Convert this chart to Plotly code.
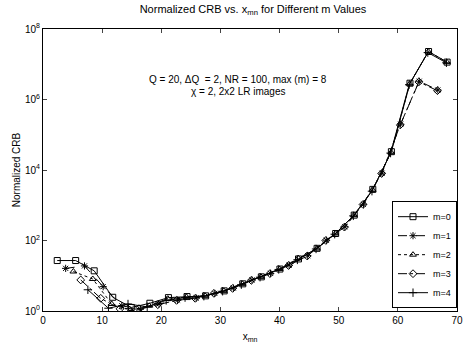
import plotly.graph_objects as go

# x_mn values (zeros of Bessel J_m) and normalized CRB per m
x_m0 = [2.4048, 5.5201, 8.6537, 11.7915, 14.9309, 18.0711, 21.2116, 24.3525, 27.4935, 30.6346, 33.7758,
        36.9171, 40.0584, 43.1998, 46.3412, 49.4826, 52.6241, 55.7655, 58.9070, 62.0485, 65.1900, 68.3315]
y_m0 = [27, 27, 13.8, 2.45, 1.26, 1.66, 2.4, 2.57, 2.69, 3.72, 5.9, 9.3, 15.5, 30, 60, 158, 525, 2820,
        33100, 2.9e6, 2.3e7, 1.15e7]

x_m1 = [3.8317, 7.0156, 10.1735, 13.3237, 16.4706, 19.6159, 22.7601, 25.9037, 29.0468, 32.1897, 35.3323,
        38.4748, 41.6171, 44.7593, 47.9015, 51.0435, 54.1856, 57.3275, 60.4695, 63.6114, 66.7532]
y_m1 = [16.2, 19, 4.9, 1.41, 1.12, 1.58, 2.04, 2.34, 3.16, 4.47, 7.6, 11.7, 20, 37, 102, 245, 1070, 8130,
        2.0e5, 3.3e6, 1.86e6]

x_m2 = [5.1356, 8.4172, 11.6198, 14.7960, 17.9598, 21.1170, 24.2701, 27.4205, 30.5692, 33.7165, 36.8633,
        40.0084, 43.1525, 46.2960, 49.4390, 52.5816, 55.7236, 58.8654, 62.0067, 65.1479, 68.2888]
y_m2 = [13.2, 8.1, 1.58, 1.07, 1.41, 2.24, 2.51, 2.69, 3.72, 5.9, 9.3, 15.5, 31.6, 58.9, 158, 525, 2750,
        31600, 2.8e6, 2.3e7, 1.15e7]

x_m3 = [6.3802, 9.7610, 13.0152, 16.2235, 19.4094, 22.5827, 25.7482, 28.9084, 32.0649, 35.2187, 38.3704,
        41.5207, 44.6697, 47.8178, 50.9650, 54.1116, 57.2577, 60.4034, 63.5487, 66.6936]
y_m3 = [7.6, 2.29, 1.15, 1.17, 1.51, 2.0, 2.29, 3.16, 4.37, 7.4, 11.5, 19.5, 36.3, 100, 240, 1050, 7940,
        1.9e5, 3.16e6, 1.78e6]

x_m4 = [7.5883, 11.0647, 14.3725, 17.6160, 20.8269, 24.0190, 27.1991, 30.3710, 33.5371, 36.6990, 39.8576,
        43.0137, 46.1678, 49.3201, 52.4710, 55.6207, 58.7694, 61.9171, 65.0640, 68.2102]
y_m4 = [4.0, 1.2, 1.58, 1.32, 2.0, 2.4, 2.63, 3.63, 5.6, 9.1, 15.1, 28.2, 57.5, 151, 500, 2510, 30200,
        2.63e6, 2.14e7, 1.1e7]

names = ["m=0", "m=1", "m=2", "m=3", "m=4"]
xs = [x_m0, x_m1, x_m2, x_m3, x_m4]
ys = [y_m0, y_m1, y_m2, y_m3, y_m4]
dashes = ["solid", "dash", "dot", "dashdot", "solid"]
symbols = ["square-open", "asterisk-open", "triangle-up-open", "diamond-open", "cross-thin-open"]

x_ticks = [0, 10, 20, 30, 40, 50, 60, 70]
y_tickvals = [1, 1e2, 1e4, 1e6, 1e8]
y_ticktext = ["10<sup>0</sup>", "10<sup>2</sup>", "10<sup>4</sup>", "10<sup>6</sup>", "10<sup>8</sup>"]

FONT = "Liberation Sans, Arial, sans-serif"

fig = go.Figure()
for name, x, y, d, s in zip(names, xs, ys, dashes, symbols):
    fig.add_trace(go.Scatter(
        x=x, y=y, name=name, mode="lines+markers",
        line=dict(color="black", width=1, dash=d),
        marker=dict(symbol=s, size=6, color="black", line=dict(color="black", width=1)),
    ))

fig.update_layout(
    width=471, height=349,
    margin=dict(l=43, r=8, t=29, b=38),
    paper_bgcolor="white", plot_bgcolor="white",
    font=dict(family=FONT, size=10, color="black"),
    title=dict(text="Normalized CRB vs. x<sub>mn</sub> for Different m Values",
               x=(43 + 463) / 2 / 471, xanchor="center", y=0.985, yanchor="top",
               font=dict(size=11, family=FONT)),
    legend=dict(x=1, y=0.01, xanchor="right", yanchor="bottom", bgcolor="white",
                bordercolor="black", borderwidth=1, font=dict(size=9, family=FONT),
                tracegroupgap=0, itemwidth=30),
    showlegend=True,
)
fig.update_xaxes(range=[0, 70], tickvals=x_ticks, ticks="inside", ticklen=4, mirror="allticks",
                 showline=True, linecolor="black", linewidth=1, showgrid=False, zeroline=False,
                 title=dict(text="x<sub>mn</sub>", standoff=7, font=dict(size=10)))
fig.update_yaxes(type="log", range=[0, 8], tickvals=y_tickvals, ticktext=y_ticktext, ticks="inside",
                 ticklen=4, mirror="allticks", showline=True, linecolor="black", linewidth=1,
                 showgrid=False, zeroline=False,
                 title=dict(text="Normalized CRB", standoff=2, font=dict(size=10)))

fig.add_annotation(x=222 / 471, y=1 - 63 / 349, xref="paper", yref="paper", showarrow=False,
                   text="Q = 20, ΔQ  = 2, NR = 100, max (m) = 8", font=dict(size=10, family=FONT),
                   xanchor="center", yanchor="middle")
fig.add_annotation(x=222 / 471, y=1 - 77 / 349, xref="paper", yref="paper", showarrow=False,
                   text="χ = 2, 2x2 LR images", font=dict(size=10, family=FONT),
                   xanchor="center", yanchor="middle")

fig.write_html("out.html", config={"displayModeBar": False},
               post_script="document.body.style.margin='0';document.body.style.overflow='hidden';")
